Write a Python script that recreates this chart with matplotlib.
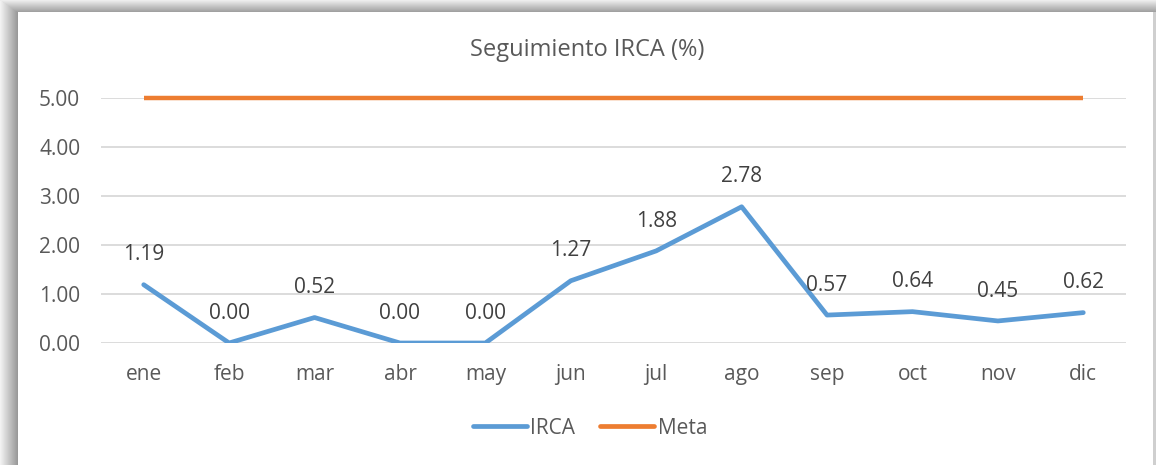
import matplotlib.pyplot as plt
from matplotlib.patches import Rectangle
from matplotlib.lines import Line2D

# datos
meses = ['ene', 'feb', 'mar', 'abr', 'may', 'jun', 'jul', 'ago', 'sep', 'oct', 'nov', 'dic']
irca = [1.19, 0.00, 0.52, 0.00, 0.00, 1.27, 1.88, 2.78, 0.57, 0.64, 0.45, 0.62]
meta = [5.00] * 12
yticks = [0.0, 1.0, 2.0, 3.0, 4.0, 5.0]

W, H = 1156, 465
plt.rcParams['font.family'] = ['Open Sans', 'DejaVu Sans']
txt = '#595959'

fig = plt.figure(figsize=(W / 100, H / 100), dpi=100)
fig.patch.set_facecolor('white')

# sombra del marco (izquierda y arriba)
for i in range(18):
    g = 0.95 - 0.35 * (i / 17)
    fig.patches.append(Rectangle((i / W, 0), 1 / W, 1 - i * 0.66 / H,
                                 transform=fig.transFigure, facecolor=(g, g, g),
                                 edgecolor='none', zorder=0))
for i in range(12):
    g = 0.93 - 0.30 * (i / 11)
    fig.patches.append(Rectangle((i * 1.5 / W, 1 - (i + 1) / H), 1 - i * 1.5 / W, 1 / H,
                                 transform=fig.transFigure, facecolor=(g, g, g),
                                 edgecolor='none', zorder=0))
fig.patches.append(Rectangle((1153 / W, 0), 3 / W, 1 - 12 / H,
                             transform=fig.transFigure, facecolor='#cfcfcf',
                             edgecolor='none', zorder=0))

ax = fig.add_axes([101 / W, (H - 343) / H, (1126 - 101) / W, (343 - 98) / H])
x = list(range(len(meses)))

ax.plot(x, irca, color='#5B9BD5', linewidth=3.4, solid_capstyle='round',
        solid_joinstyle='round', zorder=3, label='IRCA')
ax.plot(x, meta, color='#ED7D31', linewidth=3.2, solid_capstyle='butt',
        zorder=3, clip_on=False, label='Meta')

for xi, v in zip(x, irca):
    ax.annotate(f'{v:.2f}', (xi, v), xytext=(0, 21.5), textcoords='offset points',
                ha='center', va='center', fontsize=15, color='#404040')

ax.set_xlim(-0.5, 11.5)
ax.set_ylim(0, 5)
ax.set_yticks(yticks)
ax.set_yticklabels([f'{t:.2f}' for t in yticks])
ax.set_xticks(x)
ax.set_xticklabels(meses)
ax.tick_params(length=0, labelsize=15, labelcolor=txt)
ax.tick_params(axis='y', pad=15)
ax.tick_params(axis='x', pad=15)
ax.grid(axis='y', color='#D9D9D9', linewidth=1.3)
ax.set_axisbelow(True)
for s in ax.spines.values():
    s.set_visible(False)

fig.text(587 / W, 1 - 50 / H, 'Seguimiento IRCA (%)', ha='center', va='center',
         fontsize=17, color=txt)

handles = [Line2D([], [], color='#5B9BD5', linewidth=3.4, solid_capstyle='round'),
           Line2D([], [], color='#ED7D31', linewidth=3.4, solid_capstyle='round')]
fig.legend(handles, ['IRCA', 'Meta'], loc='center', bbox_to_anchor=(590 / W, 1 - 428 / H),
           ncol=2, frameon=False, fontsize=15, labelcolor=txt, handlelength=2.6,
           handletextpad=0.15, columnspacing=1.2)

fig.savefig('out.png', dpi=100)
